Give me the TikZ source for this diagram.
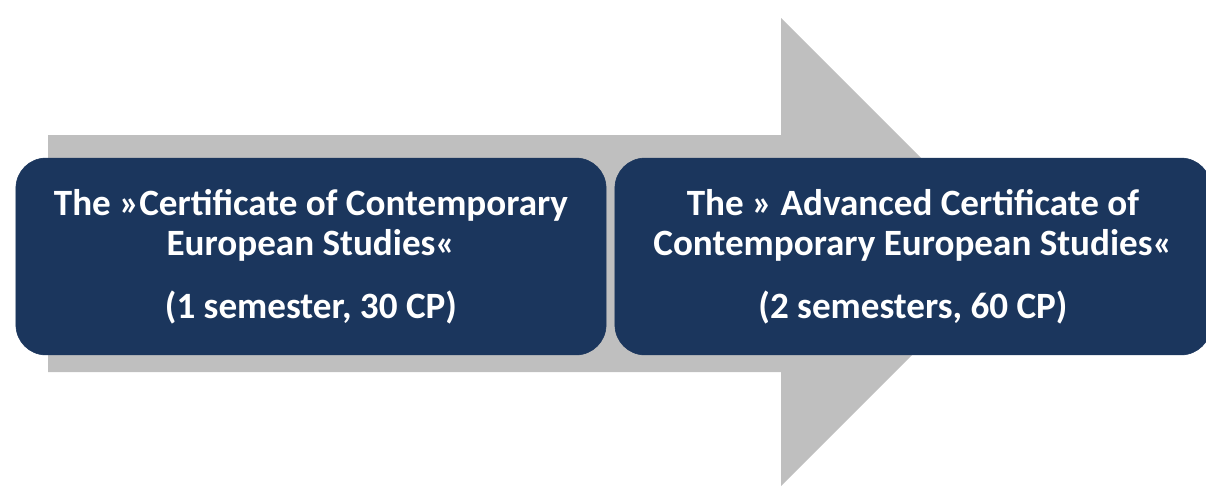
\documentclass[tikz,border=0pt]{standalone}
\usepackage{fontspec}
\setmainfont{Carlito}
\usepackage{tikz}
\usetikzlibrary{calc}
\definecolor{boxblue}{RGB}{27,54,93}
\definecolor{arrowgray}{RGB}{191,191,191}
\tikzset{
   certbox/.style={
      draw=boxblue, fill=boxblue, rounded corners=0.75cm,
      minimum height=4.92cm, text=white, align=center,
      font=\fontsize{26.4}{28.5}\selectfont\bfseries},
   bigarrow/.style={fill=arrowgray, draw=none},
    }
\begin{document}
\begin{tikzpicture}[x=0.025cm, y=-0.025cm]
            \useasboundingbox (0,0) rectangle (1206,487);
            % gray arrow behind the boxes
            \fill[bigarrow] (48,135) -- (781,135) -- (781,18) -- (1015,252)
                -- (781,486) -- (781,372) -- (48,372) -- cycle;
            \node[certbox, minimum width=14.75cm] (cert) at (311,256.5)
                {The »Certificate of Contemporary\\European Studies«\\[16pt](1 semester, 30 CP)};
            \node[certbox, minimum width=14.9cm] (advcert) at (913,256.5)
                {The » Advanced Certificate of\\Contemporary European Studies«\\[16pt](2 semesters, 60 CP)};
        \end{tikzpicture}
\end{document}
